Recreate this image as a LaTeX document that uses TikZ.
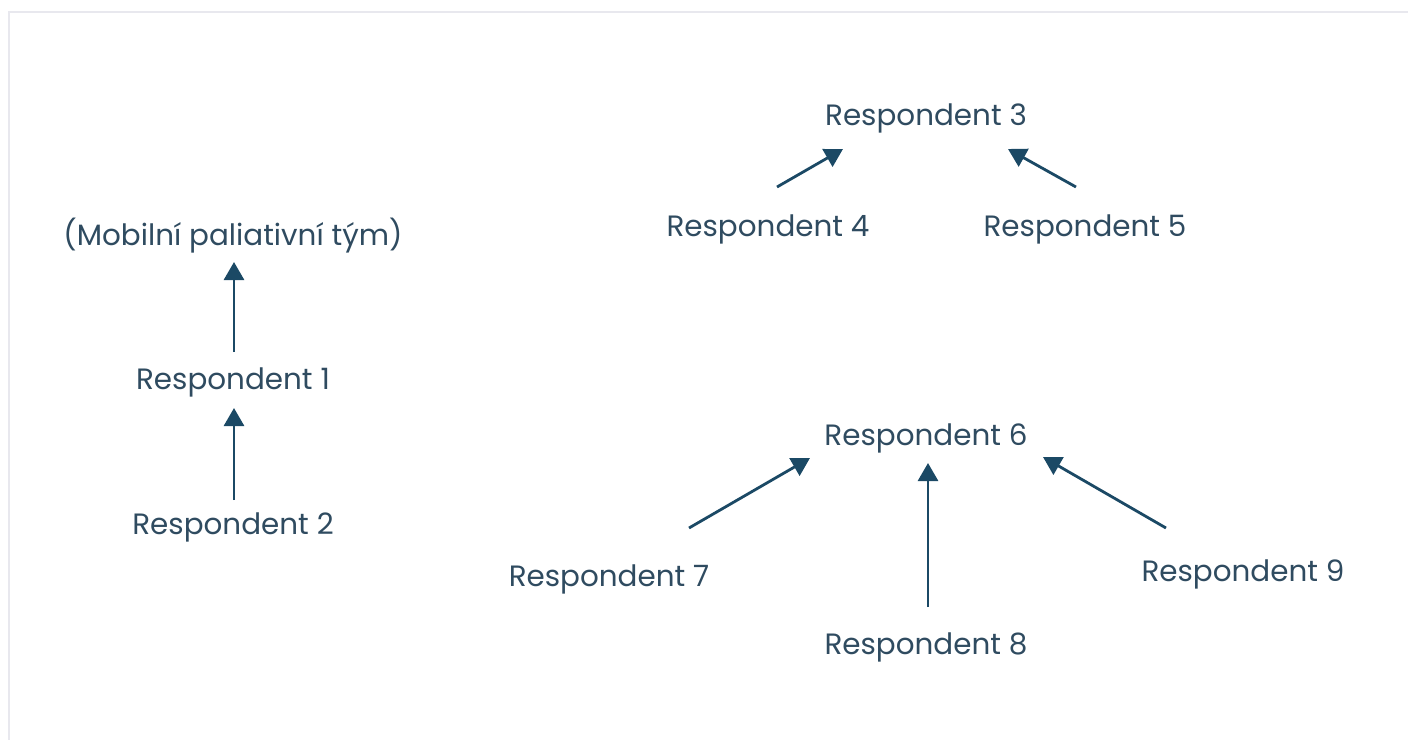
\documentclass[tikz,border=0pt]{standalone}
\usepackage{fontspec}
\setmainfont{Poppins}
\usetikzlibrary{arrows.meta,calc}
\definecolor{txt}{HTML}{2F4B60}
\definecolor{arrc}{HTML}{1B4965}
\definecolor{frame}{HTML}{E8E8EE}
\tikzset{
  lbl/.style={font=\fontsize{29.4}{33}\selectfont, text=txt, anchor=base, inner sep=0pt},
  arr/.style={draw=arrc, line width=2.8pt, -{Triangle[length=18pt,width=20pt]}}
}
\begin{document}
\begin{tikzpicture}[x=1pt,y=-1pt]
\useasboundingbox (0,0) rectangle (1408,740);
\draw[frame, line width=2.5pt] (8,12) -- (1408,12);
\draw[frame, line width=2.5pt] (9,12) -- (9,740);

\node[lbl] (mob) at (233,245) {(Mobilní paliativní tým)};
\node[lbl] (r1) at (233,389) {Respondent 1};
\node[lbl] (r2) at (233,534) {Respondent 2};
\node[lbl] (r3) at (926,125) {Respondent 3};
\node[lbl] (r4) at (768,236) {Respondent 4};
\node[lbl] (r5) at (1085,236) {Respondent 5};
\node[lbl] (r6) at (926,445) {Respondent 6};
\node[lbl] (r7) at (609,586) {Respondent 7};
\node[lbl] (r8) at (926,654) {Respondent 8};
\node[lbl] (r9) at (1243,581) {Respondent 9};

\draw[arr] ($(r1.base)+(1,-37)$) -- ($(r1.base)+(1,-127)$);
\draw[arr] ($(r2.base)+(1,-34)$) -- ($(r2.base)+(1,-126)$);
\draw[arr] ($(r4.base)+(9,-49)$) -- ($(r3.base)+(-83,24)$);
\draw[arr] ($(r5.base)+(-9,-49)$) -- ($(r3.base)+(82,24)$);
\draw[arr] ($(r7.base)+(80,-58)$) -- ($(r6.base)+(-116,13)$);
\draw[arr] ($(r8.base)+(2,-47)$) -- ($(r6.base)+(2,18)$);
\draw[arr] ($(r9.base)+(-77,-53)$) -- ($(r6.base)+(117,12)$);
\end{tikzpicture}
\end{document}
